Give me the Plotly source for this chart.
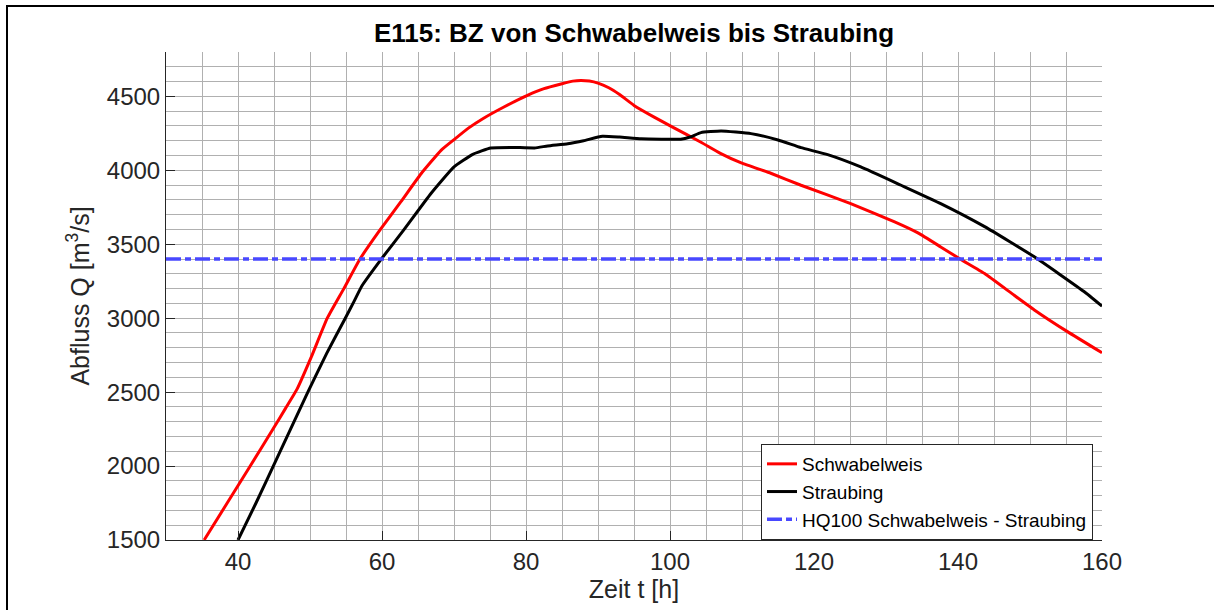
import plotly.graph_objects as go

# Schwabelweis (red)
t_schwabelweis = [35.3, 38.5, 41.7, 44.8, 46.6, 48.2, 50.2, 52.4, 54.7, 56.9, 59.7,
                  62.6, 65.4, 68.2, 70.0, 72.0, 74.0, 77.0, 80.2, 82.5, 85.0, 86.5, 87.6,
                  88.8, 90.0, 91.5, 93.0, 95.0, 97.8, 100.1, 104.3, 107.0, 109.9, 114.0,
                  118.2, 125.1, 131.2, 134.5, 137.6, 140.4, 143.7, 147.8, 150.6, 155.2, 160.0]
q_schwabelweis = [1500, 1750, 2000, 2245, 2390, 2520, 2740, 3000, 3200, 3397, 3595,
                  3786, 3975, 4135, 4207, 4285, 4349, 4430, 4507, 4552, 4585, 4603, 4608,
                  4604, 4590, 4558, 4512, 4439, 4360, 4299, 4190, 4115, 4050, 3980,
                  3899, 3775, 3651, 3575, 3482, 3397, 3302, 3155, 3056, 2909, 2766]

# Straubing (black)
t_straubing = [40.0, 42.5, 44.9, 47.3, 49.7, 52.3, 54.9, 56.1, 57.2, 59.9, 63.0, 66.8,
               70.0, 72.6, 75.1, 78.0, 81.2, 83.0, 85.8, 88.0, 90.6, 93.0, 96.0, 101.5,
               102.8, 104.3, 107.1, 111.25, 115.0, 118.2, 121.9, 126.5, 132.1, 137.6,
               143.7, 150.6, 157.5, 160.0]
q_straubing = [1500, 1750, 2000, 2250, 2500, 2760, 3000, 3112, 3218, 3400, 3595, 3843,
               4023, 4108, 4151, 4155, 4151, 4165, 4180, 4200, 4230, 4225, 4214, 4210,
               4225, 4255, 4266, 4248, 4205, 4153, 4106, 4023, 3899, 3775,
               3619, 3415, 3180, 3081]

# HQ100 level
t_hq = [30, 160]
q_hq = [3400, 3400]

x_range = [30, 160]
y_range = [1500, 4800]
x_ticks = [40, 60, 80, 100, 120, 140, 160]
y_ticks = [1500, 2000, 2500, 3000, 3500, 4000, 4500]

FONT = "Arial, Liberation Sans, sans-serif"
TXT = "#262626"
GRID = "#b0b0b0"

fig = go.Figure()
fig.add_trace(go.Scatter(x=t_schwabelweis, y=q_schwabelweis, mode="lines", name="Schwabelweis",
                         line=dict(color="#ff0000", width=3, shape="spline", smoothing=0.4)))
fig.add_trace(go.Scatter(x=t_straubing, y=q_straubing, mode="lines", name="Straubing",
                         line=dict(color="#000000", width=3, shape="spline", smoothing=0.4)))
fig.add_trace(go.Scatter(x=t_hq, y=q_hq, mode="lines", name="HQ100 Schwabelweis - Straubing",
                         line=dict(color="#4848ff", width=3.5, dash="15px,4px,6px,4px")))

L, R, T, B = 166, 1102, 52, 540
W, H = 1214, 610
pw, ph = R - L, B - T

def px_x(p):
    return (p - L) / pw

def px_y(p):
    return (B - p) / ph

fig.update_layout(
    width=W, height=H,
    margin=dict(l=L, r=W - R, t=T, b=H - B, pad=0, autoexpand=False),
    paper_bgcolor="white", plot_bgcolor="white",
    font=dict(family=FONT, color=TXT, size=24),
    title=dict(text="<b>E115: BZ von Schwabelweis bis Straubing</b>",
               font=dict(family=FONT, size=26, color="#000000"),
               x=px_x(634), xref="paper", xanchor="center",
               y=1 - 33 / H, yref="container", yanchor="middle"),
    showlegend=True,
    legend=dict(x=px_x(1093), y=px_y(492), xanchor="right", yanchor="middle",
                bgcolor="white", bordercolor="#262626", borderwidth=1,
                font=dict(family=FONT, size=19, color="#000000"),
                tracegroupgap=0, itemwidth=30),
    shapes=[dict(type="rect", xref="paper", yref="paper",
                 x0=px_x(7), x1=px_x(1230), y0=px_y(6), y1=px_y(640),
                 line=dict(color="#000000", width=2), fillcolor="rgba(0,0,0,0)", layer="above")],
)

fig.update_xaxes(range=x_range, tickvals=x_ticks, ticks="inside", ticklen=9, tickcolor=TXT,
                 showline=True, linecolor=TXT, linewidth=1, mirror=False,
                 showgrid=True, gridcolor=GRID, gridwidth=1, zeroline=False,
                 minor=dict(dtick=5, tick0=0, showgrid=True, gridcolor=GRID, gridwidth=1, ticks=""),
                 tickfont=dict(size=24, color=TXT), automargin=False,
                 title=dict(text="Zeit t [h]", font=dict(size=25, color=TXT), standoff=4))
fig.update_yaxes(range=y_range, tickvals=y_ticks, ticks="inside", ticklen=9, tickcolor=TXT,
                 showline=True, linecolor=TXT, linewidth=1, mirror=False,
                 showgrid=True, gridcolor=GRID, gridwidth=1, zeroline=False,
                 minor=dict(dtick=100, tick0=0, showgrid=True, gridcolor=GRID, gridwidth=1, ticks=""),
                 tickfont=dict(size=24, color=TXT), automargin=False,
                 title=dict(text="Abfluss Q [m<sup>3</sup>/s]", font=dict(size=25, color=TXT), standoff=10))

fig.write_html("out.html", config={"displayModeBar": False},
               post_script="document.body.style.margin='0';document.body.style.overflow='hidden';")
